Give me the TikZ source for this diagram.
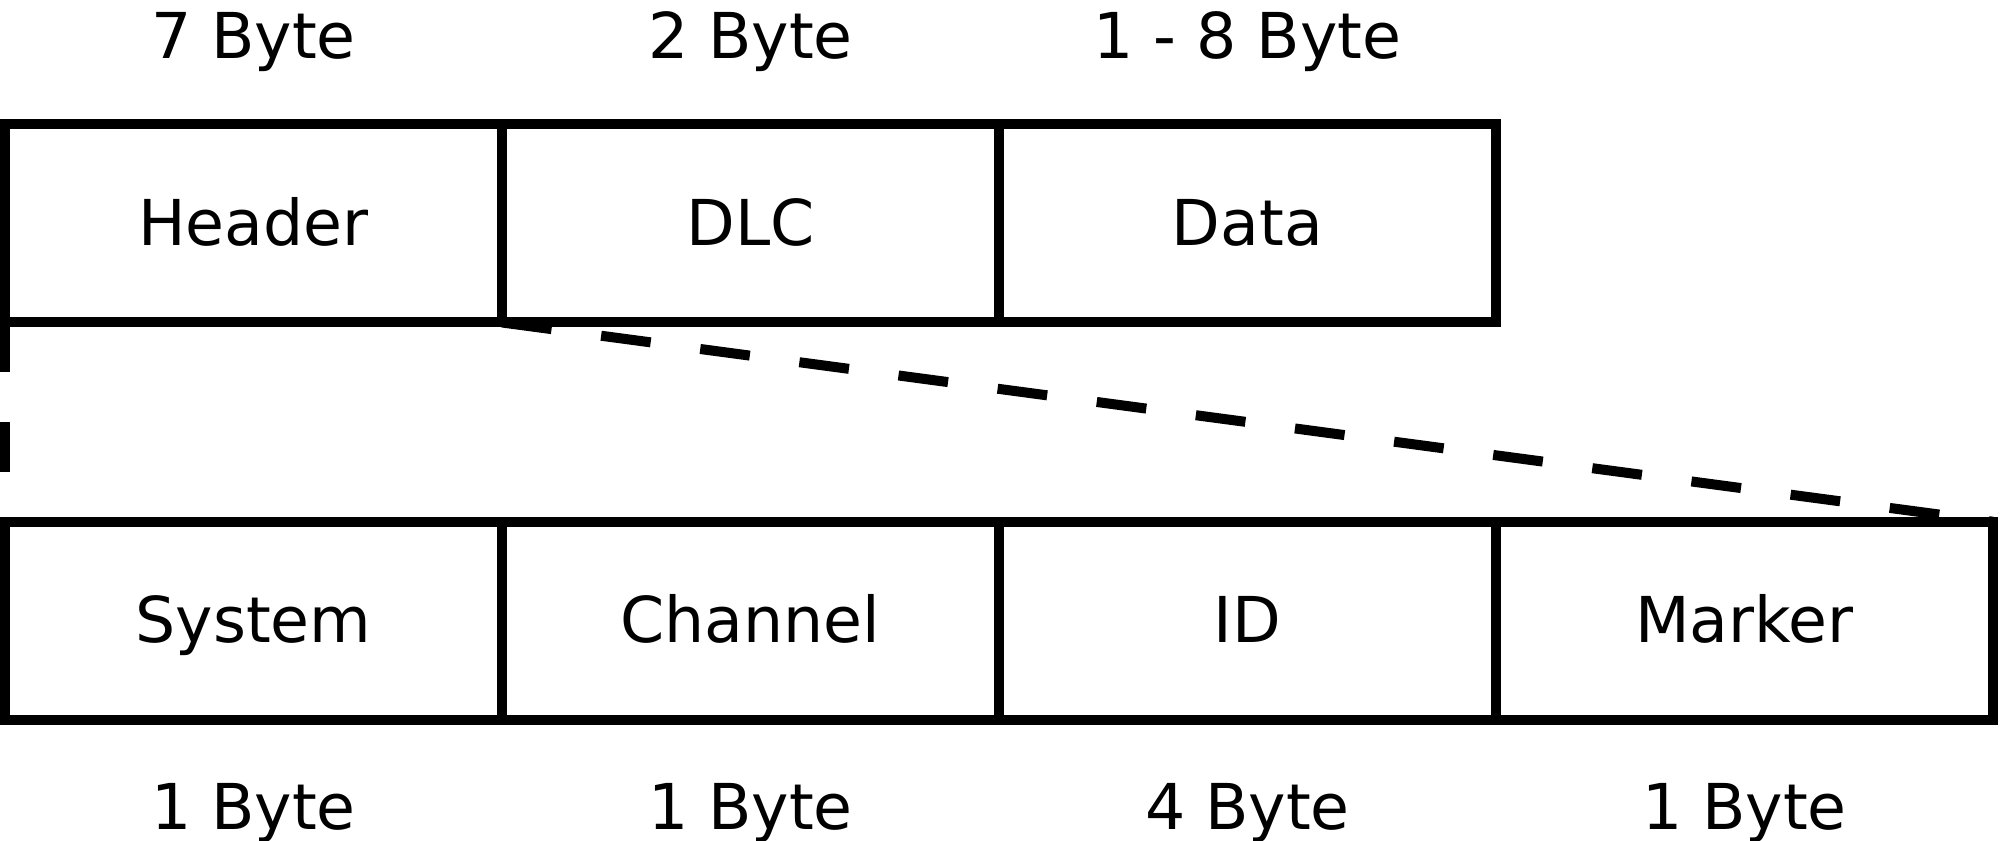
\documentclass[tikz,border=0pt]{standalone}
\usepackage{fontspec}
\setmainfont{DejaVu Sans}
\usepackage{tikz}

\begin{document}
\begin{tikzpicture}[every node/.style={font=\fontsize{18}{22}\selectfont}, field/.style={draw, line width=2.85pt, outer sep=0pt, minimum width=4.97cm, minimum height=1.985cm, inner sep=0pt, text height=16pt, text depth=3.6pt}, size/.style={anchor=base, inner sep=0pt}, zoomline/.style={line width=2.85pt, dash pattern=on 0.5cm off 0.5cm}]
	\useasboundingbox (0,0) rectangle (20,-8.41);
	\node[field] (header) at (2.535,-2.2325) {Header};
	\node[field] (dlc) at (7.505,-2.2325) {DLC};
	\node[field] (data) at (12.475,-2.2325) {Data};
	\node[size] (headersize) at (2.535,-0.59) {7 Byte};
	\node[size] (dlcsize) at (7.505,-0.59) {2 Byte};
	\node[size] (datasize) at (12.475,-0.59) {1 - 8 Byte};
	\node[field] (system) at (2.535,-6.21) {System};
	\node[field] (channel) at (7.505,-6.21) {Channel};
	\node[field] (id) at (12.475,-6.21) {ID};
	\node[field] (marker) at (17.445,-6.21) {Marker};
	\node[size] (systemsize) at (2.535,-8.30) {1 Byte};
	\node[size] (channelsize) at (7.505,-8.30) {1 Byte};
	\node[size] (idsize) at (12.475,-8.30) {4 Byte};
	\node[size] (markersize) at (17.445,-8.30) {1 Byte};
	\draw[zoomline] (header.south west) -- (system.north west);
	\draw[zoomline] (header.south east) -- (marker.north east);
	
\end{tikzpicture}
\end{document}
